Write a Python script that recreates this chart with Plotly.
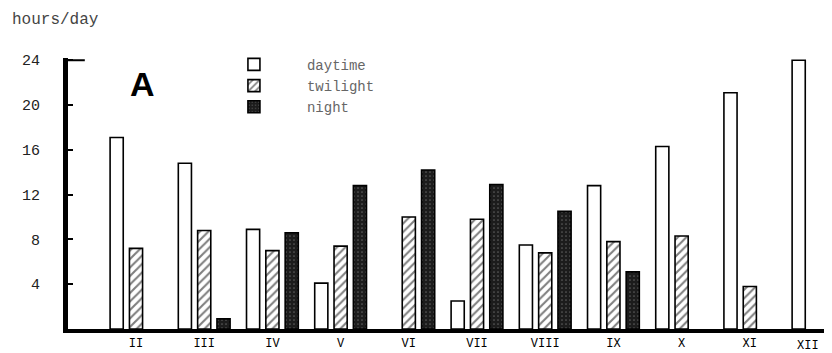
import plotly.graph_objects as go

months = ["II", "III", "IV", "V", "VI", "VII", "VIII", "IX", "X", "XI", "XII"]
daytime = [17.1, 14.8, 8.9, 4.1, None, 2.5, 7.5, 12.8, 16.3, 21.1, 24.0]
twilight = [7.2, 8.8, 7.0, 7.4, 10.0, 9.8, 6.8, 7.8, 8.3, 3.8, None]
night = [None, 0.9, 8.6, 12.8, 14.2, 12.9, 10.5, 5.1, None, None, None]
y_ticks = [4, 8, 12, 16, 20, 24]

xpos = list(range(len(months)))
# the last month label sits left of its group in the original; it is drawn as an
# annotation below so it stays inside the page
tick_text = months[:-1] + [""]
mono = "Liberation Mono, DejaVu Sans Mono, monospace"

fig = go.Figure()
fig.add_trace(go.Bar(name="daytime", x=xpos, y=daytime,
                     marker=dict(color="white", line=dict(color="black", width=1.6))))
fig.add_trace(go.Bar(name="twilight", x=xpos, y=twilight,
                     marker=dict(color="white", line=dict(color="black", width=1.6),
                                 pattern=dict(shape="/", fgcolor="black", bgcolor="white",
                                              size=6, solidity=0.35))))
fig.add_trace(go.Bar(name="night", x=xpos, y=night,
                     marker=dict(color="#1c1c1c", line=dict(color="black", width=1.6),
                                 pattern=dict(shape=".", fgcolor="#9a9a9a", bgcolor="#1c1c1c",
                                              size=4, solidity=0.15))))

# page body has an 8px margin, so the figure is sized to fill the rest of the window
fig.update_layout(
    width=824, height=345,
    margin=dict(l=60, r=0, t=50, b=24),
    paper_bgcolor="white", plot_bgcolor="white",
    barmode="group", bargap=0.15, bargroupgap=0.32,
    showlegend=True,
    legend=dict(x=0.174, y=1.034, xanchor="left", yanchor="top",
                font=dict(family=mono, size=14, color="#666"),
                bgcolor="rgba(0,0,0,0)", tracegroupgap=0, itemwidth=96),
    font=dict(family=mono, color="black"),
)
fig.update_xaxes(range=[-0.997, 10.205], tickmode="array", tickvals=xpos, ticktext=tick_text,
                 showline=True, linecolor="black", linewidth=4, ticks="", ticklen=0,
                 showgrid=False, zeroline=False, automargin=False,
                 tickfont=dict(family=mono, size=12, color="black"))
fig.update_yaxes(range=[0, 24.2], tickmode="array", tickvals=y_ticks,
                 showline=True, linecolor="black", linewidth=5, ticks="inside",
                 ticklen=5, tickwidth=1.5, tickcolor="black", ticklabelstandoff=20,
                 showgrid=False, zeroline=False, automargin=False,
                 tickfont=dict(family=mono, size=15, color="#222"))

# longer top tick at 24
fig.add_shape(type="line", xref="paper", yref="y", x0=0, x1=0.022, y0=24, y1=24,
              line=dict(color="black", width=2))

fig.add_annotation(text=months[-1], x=xpos[-1], y=0, xref="x", yref="y",
                   xanchor="center", yanchor="top", xshift=-10, yshift=-9,
                   showarrow=False, borderpad=0,
                   font=dict(family=mono, size=12, color="black"))

fig.add_annotation(text="hours/day", xref="paper", yref="paper", x=-0.076, y=1.14,
                   xanchor="left", yanchor="middle", showarrow=False,
                   font=dict(family=mono, size=16, color="#444"))
fig.add_annotation(text="<b>A</b>", xref="paper", yref="paper", x=0.079, y=0.905,
                   xanchor="left", yanchor="middle", showarrow=False,
                   font=dict(family="Liberation Sans, Arial, sans-serif", size=34, color="black"))

fig.write_html("out.html")
